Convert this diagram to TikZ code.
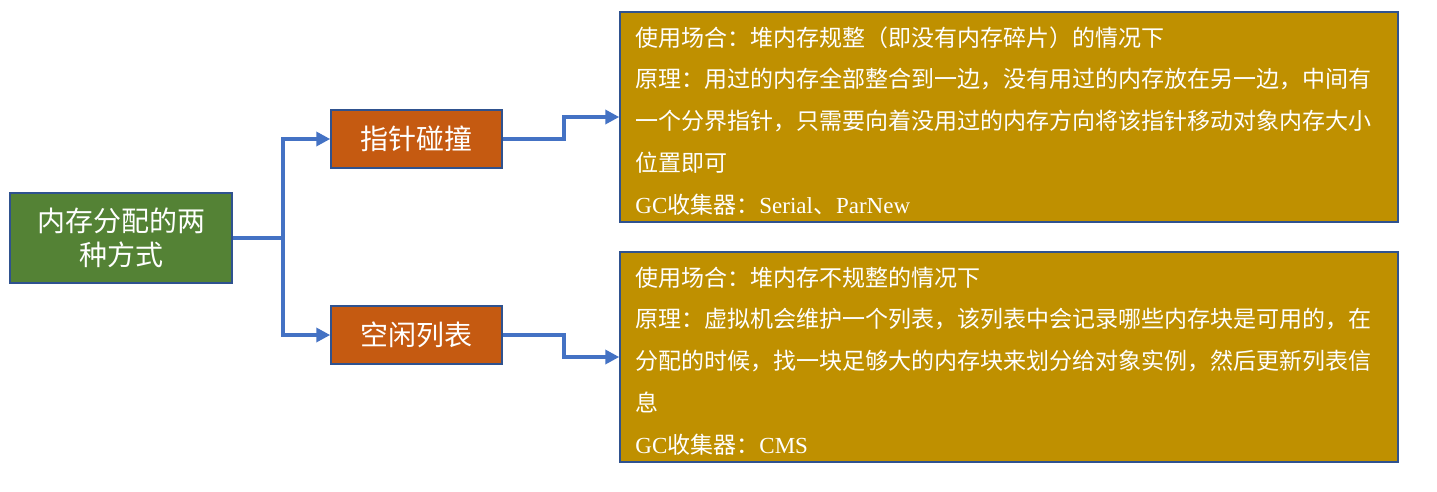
\documentclass[tikz,border=0pt]{standalone}
\usepackage{fontspec}
\setmainfont{Liberation Serif}
\newfontfamily\cjk{Noto Sans CJK SC}
\newcommand\lat[1]{{\rmfamily #1}}
\usetikzlibrary{arrows.meta, positioning, math, calc}
\definecolor{RootGreen}{HTML}{548235}
\definecolor{WayOrange}{HTML}{C55A11}
\definecolor{InfoGold}{HTML}{BF9000}
\definecolor{EdgeBlue}{HTML}{2F528F}
\definecolor{LinkBlue}{HTML}{4472C4}

\begin{document}
\begin{tikzpicture}[x=1pt,y=-1pt]
		\tikzmath{
			\rootW = 222;  %root node width
			\rootH = 90;   %root node height
			\wayW  = 171;  %way node width
			\wayH  = 58;   %way node height
			\infoW = 778;  %info box width
			\infoH = 210;  %info box height
		}
		\tikzstyle{Base} = [
			draw=EdgeBlue,
			line width=1.5pt,
			text=white,
			inner sep=0pt,
			align=center,
			font=\cjk\fontsize{28}{34}\selectfont
		]
		\tikzstyle{RootNode} = [
			fill=RootGreen,
			minimum width=\rootW pt,
			minimum height=\rootH pt,
			Base
		]
		\tikzstyle{WayNode} = [
			fill=WayOrange,
			minimum width=\wayW pt,
			minimum height=\wayH pt,
			Base
		]
		\tikzstyle{InfoBox} = [
			fill=InfoGold,
			minimum width=\infoW pt,
			minimum height=\infoH pt,
			Base
		]
		\tikzstyle{InfoText} = [
			anchor=north west,
			inner sep=0pt,
			text=white,
			align=left,
			font=\cjk\fontsize{23}{41.75}\selectfont
		]
		\tikzstyle{Link} = [
			draw=LinkBlue,
			line width=4pt,
			-{Triangle[length=14pt,width=14pt]}
		]
		\useasboundingbox (0,0) rectangle (1437,491);

		%%%%%%%%%%%%%%%%%%%%%%%%%%===---ROOT---===%%%%%%%%%%%%%%%%%%%%%%%%%%
		\node (root) [RootNode] at (121,238) {内存分配的两\\种方式};
		\coordinate (split) at ($(root.east)+(50,0)$);
		%%%%%%%%%%%%%%%%%%%%%%%%%%===---TWO WAYS---===%%%%%%%%%%%%%%%%%%%%%%%%%%
		\node (bump) [WayNode] at (416.5,139) {指针碰撞};
		\node (free) [WayNode] at (416.5,335) {空闲列表};
		\draw [Link] (root.east) -- (split) |- (bump.west);
		\draw [Link] (split) |- (free.west);
		%%%%%%%%%%%%%%%%%%%%%%%%%%===---BUMP POINTER---===%%%%%%%%%%%%%%%%%%%%%%%%%%
		\node (bumpinfo) [InfoBox] at (1009,117) {};
		\node (bumptext) [InfoText] at ($(bumpinfo.north west)+(16,5.5)$) {%
\strut 使用场合：堆内存规整（即没有内存碎片）的情况下\\%
\strut 原理：用过的内存全部整合到一边，没有用过的内存放在另一边，中间有\\%
\strut 一个分界指针，只需要向着没用过的内存方向将该指针移动对象内存大小\\%
\strut 位置即可\\%
\strut\lat{GC}收集器：\lat{Serial}、\lat{ParNew}};
		\draw [Link] (bump.east) -- ++(61,0) |- (bumpinfo.west);
		%%%%%%%%%%%%%%%%%%%%%%%%%%===---FREE LIST---===%%%%%%%%%%%%%%%%%%%%%%%%%%
		\node (freeinfo) [InfoBox] at (1009,357) {};
		\node (freetext) [InfoText] at ($(freeinfo.north west)+(16,5.5)$) {%
\strut 使用场合：堆内存不规整的情况下\\%
\strut 原理：虚拟机会维护一个列表，该列表中会记录哪些内存块是可用的，在\\%
\strut 分配的时候，找一块足够大的内存块来划分给对象实例，然后更新列表信\\%
\strut 息\\%
\strut\lat{GC}收集器：\lat{CMS}};
		\draw [Link] (free.east) -- ++(61,0) |- (freeinfo.west);

	\end{tikzpicture}
\end{document}
